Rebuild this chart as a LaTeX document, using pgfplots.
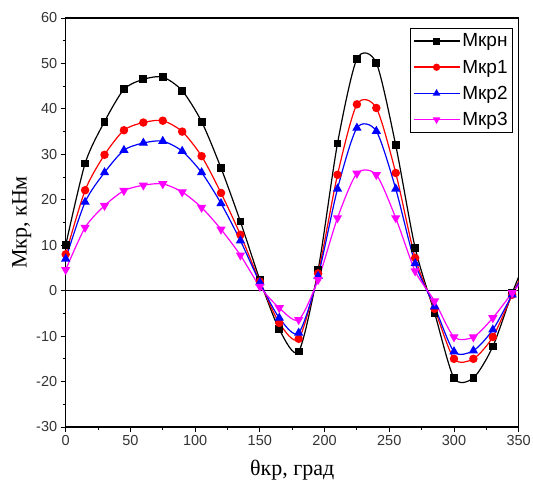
\documentclass[border=0pt]{standalone}
\usepackage{fontspec}
\setmainfont{Liberation Serif}
\setsansfont{Liberation Sans}
\usepackage{pgfplots}
\pgfplotsset{compat=1.18}
\pgfplotstableread{
x   mn     m1     m2     m3
0   10.0   8.0    7.0    4.6
15  28.0   22.1   19.5   13.9
30  37.2   29.9   26.0   18.7
45  44.3   35.3   30.9   22.0
60  46.5   37.0   32.5   23.2
75  47.0   37.4   32.9   23.5
90  44.0   35.0   30.7   21.7
105 37.2   29.6   26.0   18.3
120 27.0   21.5   19.2   13.5
135 15.2   12.3   11.0   7.8
150 2.4    2.0    1.8    0.9
165 -8.5   -7.1   -6.0   -3.8
180 -13.4  -10.6  -9.3   -6.4
195 4.5    3.8    3.2    2.4
210 32.4   25.5   22.4   16.0
225 51.0   41.0   35.8   25.8
240 50.1   40.2   35.1   25.5
255 32.0   25.9   22.4   16.0
270 9.4    7.2    6.0    4.3
285 -4.9   -4.0   -3.5   -2.3
300 -19.2  -15.0  -13.4  -10.2
315 -19.2  -15.0  -13.2  -10.2
330 -12.3  -10.2  -8.6   -6.0
345 -0.5   -0.9   -0.9   -0.5
360 10.0   8.0    7.0    4.6
}\datatable
\definecolor{cmag}{HTML}{FF00FF}

\begin{document}
\begin{tikzpicture}
\useasboundingbox (-65.7bp,-67bp) rectangle (467.3bp,427bp);
\begin{axis}[
  scale only axis,
  width=453bp, height=409bp,
  xmin=0, xmax=350, ymin=-30, ymax=60,
  xtick distance=50, ytick distance=10,
  minor x tick num=1, minor y tick num=1,
  tick pos=left, tick align=outside,
  major tick length=5bp, minor tick length=3bp,
  axis line style={black, line width=1.1bp},
  every tick/.style={black, line width=0.9bp},
  /pgf/number format/assume math mode=true,
  tick label style={font=\sffamily\fontsize{14.5bp}{16bp}\selectfont, text=black!80},
  xlabel={θкр, град},
  ylabel={Мкр, кНм},
  label style={font=\fontsize{22bp}{24bp}\selectfont},
  xlabel style={yshift=-7bp},
  ylabel style={yshift=-2bp},
  legend style={at={(rel axis cs:0.987,0.975)}, anchor=north east,
    font=\sffamily\fontsize{19bp}{21bp}\selectfont, draw=black,
    inner xsep=3bp, inner ysep=3.5bp, row sep=7.5bp},
  legend cell align=left,
  legend image post style={line width=1.6bp},
  legend image code/.code={%
    \draw[mark repeat=2, mark phase=2, mark size=2.8bp]
      plot coordinates {(0bp,0bp) (23bp,0bp) (46bp,0bp)};},
  every axis plot/.append style={line width=1.2bp, smooth, tension=0.45},
]
\draw[black, line width=0.9bp] (axis cs:0,0) -- (axis cs:350,0);
\addplot[black, mark=square*, mark size=3.3bp, mark options={solid}] table[x=x, y=mn] {\datatable};
\addlegendentry{Мкрн}
\addplot[red, mark=*, mark size=3.6bp] table[x=x, y=m1] {\datatable};
\addlegendentry{Мкр1}
\addplot[blue, mark=triangle*, mark size=4.2bp] table[x=x, y=m2] {\datatable};
\addlegendentry{Мкр2}
\addplot[cmag, mark=triangle*, mark size=4.2bp, mark options={rotate=180}] table[x=x, y=m3] {\datatable};
\addlegendentry{Мкр3}
\end{axis}
\end{tikzpicture}
\end{document}
